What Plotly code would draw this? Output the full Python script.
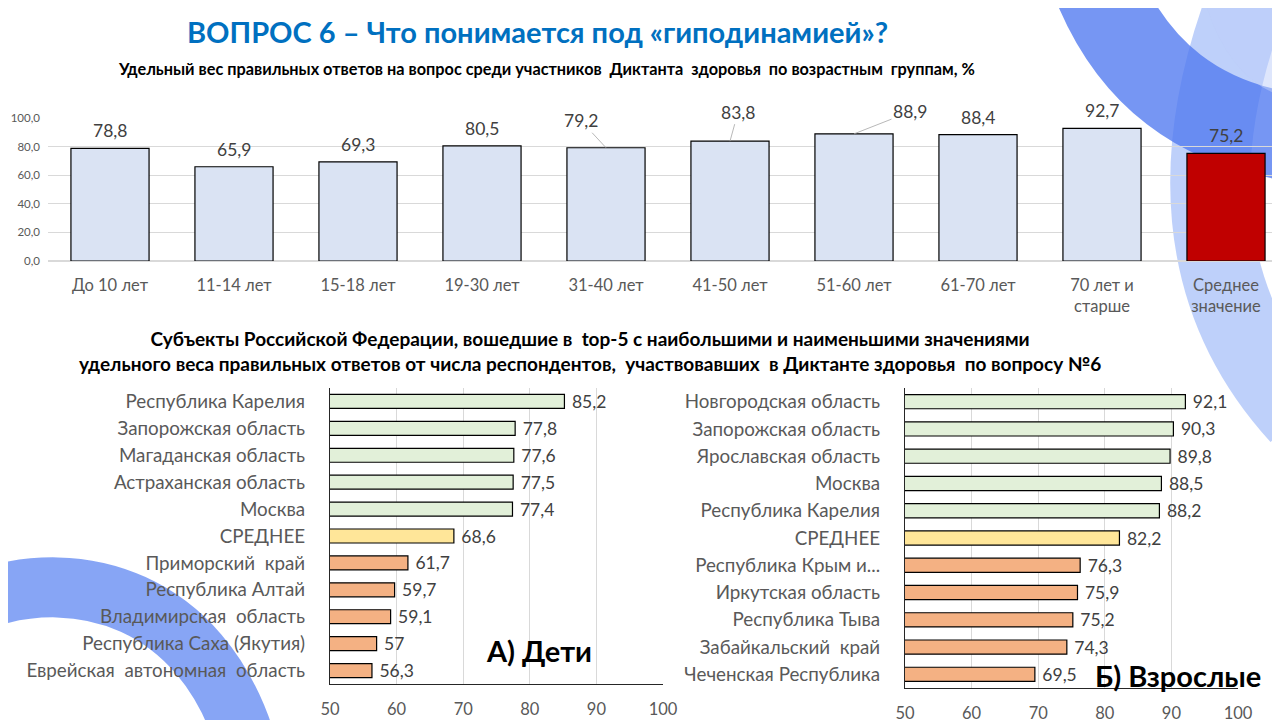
import plotly.graph_objects as go

# --- данные ---
age_groups = ["До 10 лет", "11-14 лет", "15-18 лет", "19-30 лет", "31-40 лет",
              "41-50 лет", "51-60 лет", "61-70 лет", "70 лет и<br>старше",
              "Среднее<br>значение"]
age_values = [78.8, 65.9, 69.3, 80.5, 79.2, 83.8, 88.9, 88.4, 92.7, 75.2]

kids_regions = ["Республика Карелия", "Запорожская область", "Магаданская область",
                "Астраханская область", "Москва", "СРЕДНЕЕ", "Приморский  край",
                "Республика Алтай", "Владимирская  область",
                "Республика Саха (Якутия)", "Еврейская  автономная  область"]
kids_values = [85.2, 77.8, 77.6, 77.5, 77.4, 68.6, 61.7, 59.7, 59.1, 57, 56.3]

adult_regions = ["Новгородская область", "Запорожская область", "Ярославская область",
                 "Москва", "Республика Карелия", "СРЕДНЕЕ", "Республика Крым и...",
                 "Иркутская область", "Республика Тыва", "Забайкальский  край",
                 "Чеченская Республика"]
adult_values = [92.1, 90.3, 89.8, 88.5, 88.2, 82.2, 76.3, 75.9, 75.2, 74.3, 69.5]

y_ticks = [0, 20, 40, 60, 80, 100]
x_ticks = [50, 60, 70, 80, 90, 100]

FONT = "Lato, 'Noto Sans', sans-serif"
GRAY = "#595959"
W, H = 1280, 720
OFF = 8  # отступ body в странице


def sx(px):
    return (px - OFF) / W


def sy(py):
    return 1 - (py - OFF) / H


def fmt(v):
    return str(v).replace(".", ",")


def bottom_colors(n):
    # 5 лучших, среднее, 5 худших
    return ["#E2F0D9"] * 5 + ["#FFE699"] + ["#F4B183"] * (n - 6)


fig = go.Figure()

fig.add_trace(go.Bar(
    x=age_groups, y=age_values, xaxis="x", yaxis="y",
    marker=dict(color=["#DAE3F3"] * 9 + ["#C00000"], line=dict(color="black", width=1.2)),
    width=0.63, showlegend=False, hoverinfo="x+y",
))

for vals, regs, xa, ya in [(kids_values, kids_regions, "x2", "y2"),
                           (adult_values, adult_regions, "x3", "y3")]:
    fig.add_trace(go.Bar(
        x=vals, y=regs, orientation="h", xaxis=xa, yaxis=ya,
        marker=dict(color=bottom_colors(len(vals)), line=dict(color="black", width=1.2)),
        width=0.52, text=["\u00a0" + fmt(v) for v in vals], textposition="outside",
        textfont=dict(size=17.5, color="#404040", family=FONT), cliponaxis=False,
        constraintext="none", showlegend=False,
    ))

# подписи значений верхней диаграммы (некоторые с выносками)
leaders = {4: (-25, -27), 5: (8, -29), 6: (56, -22)}
annotations = []
for i, (cat, val) in enumerate(zip(age_groups, age_values)):
    if i in leaders:
        ax, ay = leaders[i]
        annotations.append(dict(x=cat, y=val, xref="x", yref="y", text=fmt(val),
                                showarrow=True, arrowhead=0, arrowwidth=0.8,
                                arrowcolor="#A6A6A6", ax=ax, ay=ay,
                                font=dict(size=17.5, color="#404040", family=FONT)))
    else:
        annotations.append(dict(x=cat, y=val, xref="x", yref="y", text=fmt(val),
                                showarrow=False, yanchor="bottom", yshift=5,
                                font=dict(size=17.5, color="#404040", family=FONT)))

annotations += [
    dict(x=sx(537), y=sy(32), xref="paper", yref="paper", showarrow=False,
         xanchor="center", yanchor="middle",
         text="<b>ВОПРОС 6 – Что понимается под «гиподинамией»?</b>",
         font=dict(size=29, color="#0070C0", family=FONT)),
    dict(x=sx(546), y=sy(68), xref="paper", yref="paper", showarrow=False,
         xanchor="center", yanchor="middle",
         text="<b>Удельный вес правильных ответов на вопрос среди участников  Диктанта  здоровья  по возрастным  группам, %</b>",
         font=dict(size=16.3, color="black", family=FONT)),
    dict(x=sx(590), y=sy(351), xref="paper", yref="paper", showarrow=False,
         xanchor="center", yanchor="middle",
         text="<b>Субъекты Российской Федерации, вошедшие в  top-5 с наибольшими и наименьшими значениями<br>"
              "удельного веса правильных ответов от числа респондентов,  участвовавших  в Диктанте здоровья  по вопросу №6</b>",
         font=dict(size=19, color="black", family=FONT), align="center"),
    dict(x=sx(539), y=sy(650), xref="paper", yref="paper", showarrow=False,
         xanchor="center", yanchor="middle", text="<b>А) Дети</b>",
         font=dict(size=29, color="black", family=FONT)),
    dict(x=sx(1178), y=sy(675), xref="paper", yref="paper", showarrow=False,
         xanchor="center", yanchor="middle", text="<b>Б) Взрослые</b>",
         font=dict(size=29, color="black", family=FONT)),
]


def p(x, y):
    return f"{sx(x):.4f},{sy(y):.4f}"


# декоративные дуги фона
arcs = [
    (f"M {p(1255, -20)} C {p(1185, 150)} {p(1195, 300)} {p(1300, 415)}", 80, "rgba(110,150,245,0.45)"),
    (f"M {p(1095, -20)} Q {p(1150, 120)} {p(1300, 138)}", 88, "rgba(80,120,240,0.78)"),
    (f"M {p(1230, -20)} Q {p(1250, 60)} {p(1300, 70)}", 60, "rgba(190,205,250,0.5)"),
    (f"M {p(-20, 600)} C {p(80, 565)} {p(200, 600)} {p(245, 740)}", 60, "rgba(95,135,242,0.75)"),
]
shapes = [dict(type="path", path=path, xref="paper", yref="paper", layer="below",
               line=dict(color=col, width=wd)) for path, wd, col in arcs]

fig.update_layout(
    width=W, height=H, margin=dict(l=0, r=0, t=0, b=0, autoexpand=False),
    paper_bgcolor="white", plot_bgcolor="rgba(0,0,0,0)",
    separators=", ", font=dict(family=FONT, color=GRAY), bargap=0.4,
    annotations=annotations, shapes=shapes,
    xaxis=dict(domain=[sx(48), 1.0], anchor="y", showgrid=False, showline=False,
               automargin=False, tickfont=dict(size=16.5, color=GRAY),
               ticklabelstandoff=12, fixedrange=True),
    yaxis=dict(domain=[sy(261), sy(118)], anchor="x", range=[0, 100],
               automargin=False, tickvals=y_ticks, tickformat=".1f", showgrid=True,
               gridcolor="#D9D9D9", zeroline=True, zerolinecolor="#D9D9D9", showline=False,
               tickfont=dict(size=11.5, color=GRAY), ticklabelstandoff=7),
    xaxis2=dict(domain=[sx(330), sx(663)], anchor="y2", range=[50, 100], tickvals=x_ticks,
                automargin=False, showgrid=True, gridcolor="#D9D9D9", showline=True,
                linecolor="#262626", linewidth=1.2, zeroline=False,
                tickfont=dict(size=16.5, color=GRAY), ticklabelstandoff=10),
    yaxis2=dict(domain=[sy(684), sy(388)], anchor="x2", autorange="reversed",
                automargin=False, showline=True, linecolor="#262626", linewidth=1.2,
                showgrid=False, tickfont=dict(size=18.8, color=GRAY), ticklabelstandoff=20),
    xaxis3=dict(domain=[sx(905), sx(1238)], anchor="y3", range=[50, 100], tickvals=x_ticks,
                automargin=False, showgrid=True, gridcolor="#D9D9D9", showline=True,
                linecolor="#262626", linewidth=1.2, zeroline=False,
                tickfont=dict(size=16.5, color=GRAY), ticklabelstandoff=10),
    yaxis3=dict(domain=[sy(688), sy(388)], anchor="x3", autorange="reversed",
                automargin=False, showline=True, linecolor="#262626", linewidth=1.2,
                showgrid=False, tickfont=dict(size=18.8, color=GRAY), ticklabelstandoff=20),
)

fig.write_html("out.html")
